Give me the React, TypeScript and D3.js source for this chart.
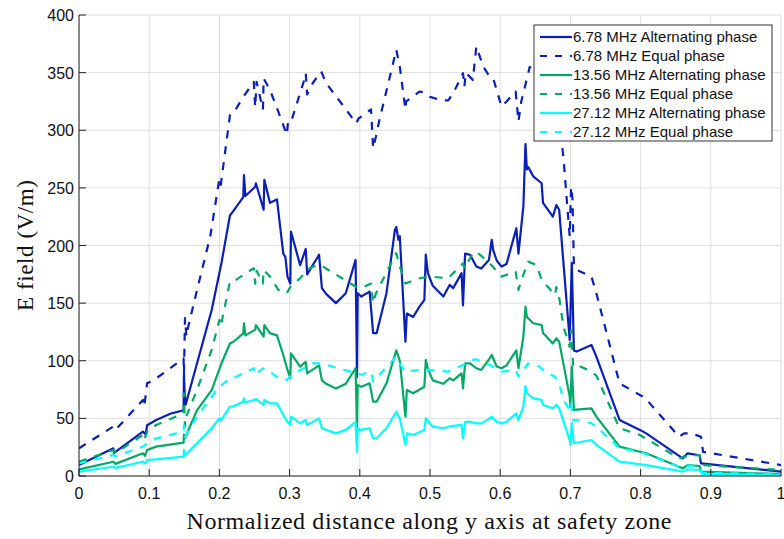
import React from "react";
import * as d3 from "d3";

type P = [number, number];

const legendLabels = [
  "6.78 MHz Alternating phase",
  "6.78 MHz Equal phase",
  "13.56 MHz Alternating phase",
  "13.56 MHz Equal phase",
  "27.12 MHz Alternating phase",
  "27.12 MHz Equal phase",
];

const xTicks = [0, 0.1, 0.2, 0.3, 0.4, 0.5, 0.6, 0.7, 0.8, 0.9, 1];
const yTicks = [0, 50, 100, 150, 200, 250, 300, 350, 400];

const blueAlt: P[] = [[0,9.5],[0.049,24],[0.05,20],[0.091,38.5],[0.095,36],[0.097,44],[0.11,48.6],[0.13,54],[0.149,57],[0.1495,89],[0.1505,72],[0.152,62],[0.189,144],[0.203,185],[0.215,226],[0.22,230],[0.234,242],[0.235,261],[0.237,243],[0.251,251],[0.252,254],[0.263,231],[0.264,257],[0.272,237],[0.282,240],[0.291,193],[0.294,190],[0.297,173],[0.301,167],[0.302,212],[0.315,183],[0.323,197],[0.325,175],[0.342,192],[0.346,163],[0.352,158],[0.366,150],[0.38,158.6],[0.394,187.5],[0.396,86],[0.397,158.6],[0.402,155.7],[0.414,160],[0.419,124],[0.424,124],[0.438,158.6],[0.45,213.5],[0.452,216],[0.455,205],[0.457,208],[0.465,116.6],[0.467,141],[0.476,138],[0.485,147],[0.492,152.8],[0.494,192],[0.497,176],[0.504,165],[0.519,155.7],[0.528,165.8],[0.533,163],[0.545,176],[0.547,148],[0.55,193],[0.557,192],[0.566,181.7],[0.573,180],[0.584,187.5],[0.588,205],[0.59,196],[0.595,187],[0.602,181.7],[0.609,184],[0.623,215],[0.626,193],[0.633,234],[0.636,288],[0.638,266],[0.64,268],[0.647,260],[0.659,254],[0.661,237],[0.675,225],[0.68,235],[0.684,231],[0.699,118],[0.702,185],[0.705,109],[0.709,108],[0.73,113.7],[0.737,103.6],[0.77,48.6],[0.799,40],[0.808,37],[0.86,15.3],[0.867,19.7],[0.884,18],[0.886,11],[1,3.8]];

const blueEq: P[] = [[0,24],[0.049,43],[0.052,40],[0.091,66],[0.093,60],[0.097,80.4],[0.106,83],[0.149,102],[0.1495,89],[0.151,137],[0.153,121],[0.155,128],[0.168,161],[0.187,208],[0.2,258],[0.202,252.6],[0.215,313],[0.22,314.8],[0.234,329],[0.249,342],[0.251,320],[0.253,342],[0.262,318],[0.263,345],[0.272,335],[0.284,316],[0.296,296],[0.298,309],[0.303,309],[0.32,342],[0.323,349.5],[0.325,331],[0.333,341],[0.345,351],[0.352,341],[0.395,306],[0.398,310],[0.411,316],[0.416,318],[0.419,284.4],[0.423,294.6],[0.428,309],[0.452,369.8],[0.457,355],[0.465,318],[0.466,325],[0.485,333.6],[0.49,333],[0.5,329],[0.516,326],[0.526,326],[0.533,332],[0.547,349.5],[0.549,338],[0.551,350],[0.561,343.7],[0.566,372.7],[0.576,355],[0.585,346.6],[0.59,345],[0.602,320.6],[0.609,325],[0.622,333.6],[0.626,307.6],[0.63,325],[0.64,349.5],[0.642,355],[0.66,340],[0.68,320],[0.687,291.7],[0.69,277],[0.699,207.8],[0.701,251],[0.703,240],[0.705,181.7],[0.709,178.8],[0.73,173],[0.737,158.6],[0.77,80.4],[0.799,70.3],[0.806,68],[0.855,34],[0.862,37],[0.872,37],[0.886,34],[0.889,21],[1,9.5]];

const greenAlt: P[] = [[0,5.8],[0.049,12.4],[0.052,10.5],[0.091,19.7],[0.094,17.5],[0.097,22.6],[0.11,25.5],[0.149,29],[0.1495,36],[0.151,33],[0.168,57],[0.189,74.6],[0.203,97.8],[0.215,115],[0.22,116.5],[0.234,123.8],[0.235,132.5],[0.237,122],[0.251,127],[0.252,131],[0.263,121],[0.264,131],[0.272,124],[0.282,122],[0.291,105],[0.297,92],[0.301,84.8],[0.302,106.5],[0.315,94.9],[0.323,99],[0.325,89],[0.342,96],[0.346,83],[0.352,80],[0.366,76],[0.38,80],[0.394,93.5],[0.396,42.8],[0.397,79],[0.402,77.5],[0.414,80.4],[0.419,64.5],[0.424,64.5],[0.438,80.4],[0.45,105],[0.452,109],[0.457,100],[0.465,51.5],[0.467,74.6],[0.476,71.8],[0.492,77.5],[0.494,100.7],[0.497,93],[0.504,83],[0.519,80],[0.528,84.8],[0.533,83],[0.545,89],[0.547,76],[0.55,97.8],[0.557,97.8],[0.566,93.5],[0.573,92],[0.585,102],[0.588,105],[0.595,95],[0.602,93.5],[0.609,96],[0.623,109],[0.626,93.5],[0.633,121],[0.636,147],[0.638,138],[0.647,132.5],[0.659,131],[0.661,124],[0.675,115],[0.68,119.5],[0.684,116.6],[0.699,68.9],[0.7,60],[0.702,95],[0.705,57.3],[0.73,58.7],[0.737,51.5],[0.77,25.5],[0.799,21],[0.808,19.7],[0.86,6.7],[0.867,9.5],[0.884,8.7],[0.886,3.8],[1,1.7]];

const greenEq: P[] = [[0,12.4],[0.049,22.6],[0.052,20],[0.091,35.6],[0.093,31.2],[0.097,38.5],[0.11,44.3],[0.149,54.4],[0.1495,71.8],[0.151,42.8],[0.153,52],[0.168,74.6],[0.189,109.4],[0.2,135.4],[0.202,130],[0.215,168.7],[0.22,168.7],[0.234,174.5],[0.249,180.3],[0.251,167],[0.253,178],[0.262,167],[0.263,178.8],[0.272,173],[0.284,161.5],[0.296,158.6],[0.301,164],[0.315,171.6],[0.325,178.8],[0.333,181.7],[0.345,183],[0.352,180],[0.395,164],[0.402,163],[0.416,167],[0.419,150],[0.423,158.6],[0.452,193.3],[0.457,181.7],[0.465,167],[0.485,171.6],[0.5,173],[0.526,171.6],[0.547,184.6],[0.549,180],[0.561,193.3],[0.566,194.7],[0.585,184.6],[0.602,173],[0.622,177.4],[0.626,161.5],[0.63,170],[0.64,186],[0.652,183],[0.659,170],[0.668,164],[0.678,157],[0.68,164],[0.684,155],[0.69,129.6],[0.697,116.6],[0.699,112],[0.701,126.7],[0.704,95],[0.709,96.4],[0.73,90.6],[0.737,87],[0.77,41.4],[0.799,35.6],[0.855,15.3],[0.862,16.8],[0.884,18.2],[0.888,9.5],[1,5.2]];

const cyanAlt: P[] = [[0,3.8],[0.049,8],[0.052,7],[0.091,12.4],[0.094,11],[0.097,13.9],[0.11,14.5],[0.149,16.8],[0.1495,22.6],[0.151,18],[0.168,28.4],[0.189,41.4],[0.2,50],[0.202,48],[0.215,60.2],[0.22,60.5],[0.234,64.5],[0.235,67.4],[0.237,64],[0.251,66],[0.252,67],[0.263,61.6],[0.264,66],[0.272,63],[0.282,63],[0.291,53],[0.297,47],[0.301,44.3],[0.302,51.5],[0.315,45.7],[0.323,48.6],[0.325,44.3],[0.342,50],[0.346,41.4],[0.366,37],[0.38,40],[0.394,47],[0.396,21],[0.397,41.4],[0.402,40],[0.414,41.4],[0.419,32.7],[0.424,32.7],[0.438,41.4],[0.452,55.8],[0.457,50],[0.465,27],[0.467,37],[0.476,35.6],[0.492,40],[0.494,50],[0.504,42.8],[0.519,41.4],[0.528,43],[0.545,44.3],[0.547,32.7],[0.55,47],[0.557,47],[0.566,45.7],[0.573,45.7],[0.585,50],[0.588,51.5],[0.595,47],[0.602,45.7],[0.609,47],[0.623,54.4],[0.626,48.6],[0.633,60.2],[0.636,78],[0.638,72],[0.647,67.4],[0.659,66],[0.661,61.6],[0.675,58.7],[0.68,61.6],[0.684,58.7],[0.699,31.2],[0.7,27],[0.702,45.7],[0.705,28.4],[0.73,31.2],[0.737,27],[0.77,12.4],[0.808,9.5],[0.86,3.8],[0.867,5.8],[0.884,5.2],[0.888,1.7],[1,0.9]];

const cyanEq: P[] = [[0,11],[0.049,18.2],[0.052,17],[0.091,25.5],[0.097,28.4],[0.11,32.7],[0.149,38.5],[0.1495,44],[0.151,34],[0.168,51.5],[0.189,68.9],[0.2,77.5],[0.215,84.8],[0.22,85],[0.234,89],[0.249,93.5],[0.251,87.7],[0.262,93.5],[0.272,90.6],[0.284,84.8],[0.296,83.3],[0.301,86.2],[0.315,92],[0.325,95],[0.333,97.8],[0.345,97.8],[0.395,89],[0.402,88],[0.416,90.6],[0.419,82],[0.428,88],[0.452,103.6],[0.457,97],[0.465,90.6],[0.485,92],[0.5,92],[0.526,90.6],[0.547,96.4],[0.561,100.7],[0.566,101.3],[0.585,96.4],[0.602,90.6],[0.622,92],[0.626,86.2],[0.63,90],[0.64,97.8],[0.652,96.4],[0.668,89],[0.678,86.2],[0.684,80.4],[0.69,66],[0.699,57.3],[0.701,63],[0.704,48.6],[0.709,48.6],[0.73,45.7],[0.737,42.8],[0.77,24],[0.799,21],[0.855,8],[0.862,9.5],[0.884,8],[0.888,2.9],[1,1.4]];

const seriesData = [blueAlt, blueEq, greenAlt, greenEq, cyanAlt, cyanEq];
const seriesColors = ["#0a1fb8", "#0a1fb8", "#00aa66", "#00aa66", "#00ffff", "#00ffff"];
const seriesDashed = [false, true, false, true, false, true];

const W = 784;
const H = 539;
const L = 79, R = 781, T = 15, B = 476;

export default function App() {
  const x = d3.scaleLinear().domain([0, 1]).range([L, R]);
  const y = d3.scaleLinear().domain([0, 400]).range([B, T]);
  const line = d3.line<P>().x(d => x(d[0])).y(d => y(d[1]));
  const sans = "'Liberation Sans', Arial, sans-serif";
  const serif = "'Liberation Serif', 'DejaVu Serif', serif";
  const legX = 534, legY = 25, legW = 238, legH = 116;
  const rowH = 19;
  const dash = "8,8";
  return (
    <svg width={W} height={H} style={{ position: "absolute", left: 0, top: 0, background: "#fff" }}>
      <defs>
        <clipPath id="plot">
          <rect x={L} y={T} width={R - L} height={B - T} />
        </clipPath>
      </defs>
      <rect x={0} y={0} width={W} height={H} fill="#fff" />
      {xTicks.map(t => (
        <line key={"gx" + t} x1={x(t)} x2={x(t)} y1={T} y2={B} stroke="#dedede" strokeWidth={1} />
      ))}
      {yTicks.map(t => (
        <line key={"gy" + t} x1={L} x2={R} y1={y(t)} y2={y(t)} stroke="#dedede" strokeWidth={1} />
      ))}
      <g clipPath="url(#plot)">
        {seriesData.map((s, i) => (
          <path key={i} d={line(s) || ""} fill="none" stroke={seriesColors[i]} strokeWidth={2.2}
            strokeDasharray={seriesDashed[i] ? dash : undefined} strokeLinejoin="round" />
        ))}
      </g>
      <line x1={L} x2={L} y1={T} y2={B} stroke="#222" strokeWidth={1} />
      <line x1={L} x2={R} y1={B} y2={B} stroke="#222" strokeWidth={1} />
      {xTicks.map(t => (
        <g key={"xt" + t}>
          <line x1={x(t)} x2={x(t)} y1={B} y2={B - 7} stroke="#222" />
          <text x={x(t)} y={B + 23} textAnchor="middle" fontFamily={sans} fontSize={16} fill="#111">{t}</text>
        </g>
      ))}
      {yTicks.map(t => (
        <g key={"yt" + t}>
          <line x1={L} x2={L + 7} y1={y(t)} y2={y(t)} stroke="#222" />
          <text x={L - 5} y={y(t) + 6} textAnchor="end" fontFamily={sans} fontSize={16} fill="#111">{t}</text>
        </g>
      ))}
      <text x={(L + R) / 2 - 1} y={529} textAnchor="middle" fontFamily={serif} fontSize={24} fill="#111"
        textLength={485} lengthAdjust="spacing">
        Normalized distance along y axis at safety zone
      </text>
      <text transform={`translate(33,${(T + B) / 2}) rotate(-90)`} textAnchor="middle" fontFamily={serif} fontSize={23} fill="#111"
        textLength={131} lengthAdjust="spacing">
        E field (V/m)
      </text>
      <g>
        <rect x={legX} y={legY} width={legW} height={legH} fill="#fff" stroke="#333" strokeWidth={1} />
        {legendLabels.map((lab, i) => {
          const cy = legY + 12 + i * rowH;
          return (
            <g key={lab}>
              <line x1={legX + 6} x2={legX + 38} y1={cy} y2={cy} stroke={seriesColors[i]} strokeWidth={2.2}
                strokeDasharray={seriesDashed[i] ? "7,8" : undefined} />
              <text x={legX + 39} y={cy + 5} fontFamily={sans} fontSize={15} fill="#111">{lab}</text>
            </g>
          );
        })}
      </g>
    </svg>
  );
}
